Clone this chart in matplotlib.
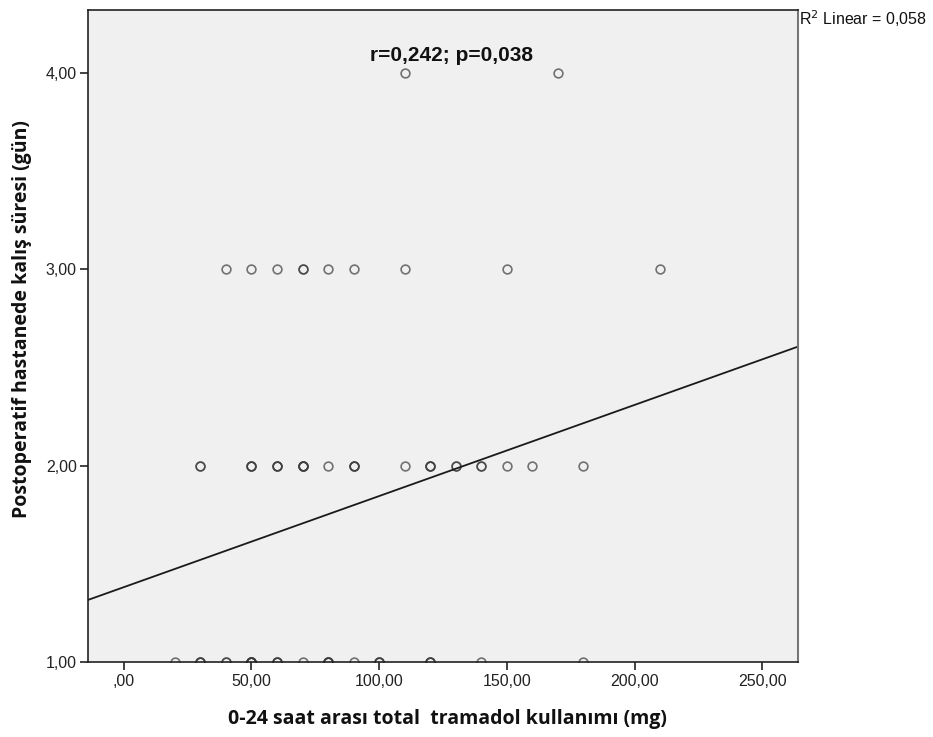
import matplotlib.pyplot as plt
import numpy as np

plt.rcParams['font.family'] = ['Liberation Sans', 'DejaVu Sans']

# tramadol dose (mg) at each stay length, with how many patients share the point
x_stay1 = [20, 30, 40, 50, 60, 70, 80, 90, 100, 120, 140, 180]
n_stay1 = [1, 3, 2, 6, 3, 1, 4, 1, 3, 3, 1, 1]
x_stay2 = [30, 50, 60, 70, 80, 90, 110, 120, 130, 140, 150, 160, 180]
n_stay2 = [2, 3, 3, 4, 1, 3, 1, 3, 2, 2, 1, 1, 1]
x_stay3 = [40, 50, 60, 70, 80, 90, 110, 150, 210]
n_stay3 = [1, 1, 1, 2, 1, 1, 1, 1, 1]
x_stay4 = [110, 170]
n_stay4 = [1, 1]

# linear fit line
fit_intercept = 1.381
fit_slope = 0.00464

xticks = [0, 50, 100, 150, 200, 250]
xtick_labels = [',00', '50,00', '100,00', '150,00', '200,00', '250,00']
yticks = [1, 2, 3, 4]
ytick_labels = ['1,00', '2,00', '3,00', '4,00']

fig = plt.figure(figsize=(9.33, 7.37), dpi=100)
ax = fig.add_axes([88 / 933, 75 / 737, 710 / 933, 652 / 737])
ax.set_facecolor('#f0f0f0')

rows = [(1, x_stay1, n_stay1), (2, x_stay2, n_stay2),
        (3, x_stay3, n_stay3), (4, x_stay4, n_stay4)]
for yval, xs, ns in rows:
    for xv, cnt in zip(xs, ns):
        for _ in range(cnt):
            ax.plot(xv, yval, 'o', ms=6.3, mfc='none', mec='#3c3c3c',
                    mew=1.2, alpha=0.7)

xmin, xmax = -14, 264
xl = np.array([xmin, xmax])
ax.plot(xl, fit_intercept + fit_slope * xl, color='#1a1a1a', lw=1.3)

ax.set_xlim(xmin, xmax)
ax.set_ylim(1.0, 4.32)
ax.set_xticks(xticks)
ax.set_xticklabels(xtick_labels)
ax.set_yticks(yticks)
ax.set_yticklabels(ytick_labels)
ax.tick_params(axis='both', direction='out', length=6, width=1.2,
               color='#222222', labelsize=11.5, labelcolor='#222222')
ax.tick_params(axis='x', pad=3)
ax.tick_params(axis='y', pad=2)

for side in ['left', 'bottom', 'top']:
    ax.spines[side].set_color('#222222')
    ax.spines[side].set_linewidth(1.2)
ax.spines['right'].set_color('#777777')
ax.spines['right'].set_linewidth(1.5)

lab_font = ['Open Sans', 'DejaVu Sans']
fig.text(447 / 933, 1 - 719 / 737,
         '0-24 saat arası total  tramadol kullanımı (mg)',
         family=lab_font, fontsize=14, fontweight='bold',
         ha='center', va='center', color='#111111')
fig.text(22 / 933, 1 - 319 / 737,
         'Postoperatif hastanede kalış süresi (gün)',
         family=lab_font, fontsize=14, fontweight='bold', rotation=90,
         ha='center', va='center', color='#111111')

ax.text(128.2, 4.087, 'r=0,242; p=0,038', fontsize=15, fontweight='bold',
        ha='center', va='center', color='#111111')

fig.text(799 / 933, 1 - 19 / 737, 'R$^2$ Linear = 0,058', fontsize=11.5,
         ha='left', va='center', color='#111111')

fig.savefig('out.png', dpi=100)
